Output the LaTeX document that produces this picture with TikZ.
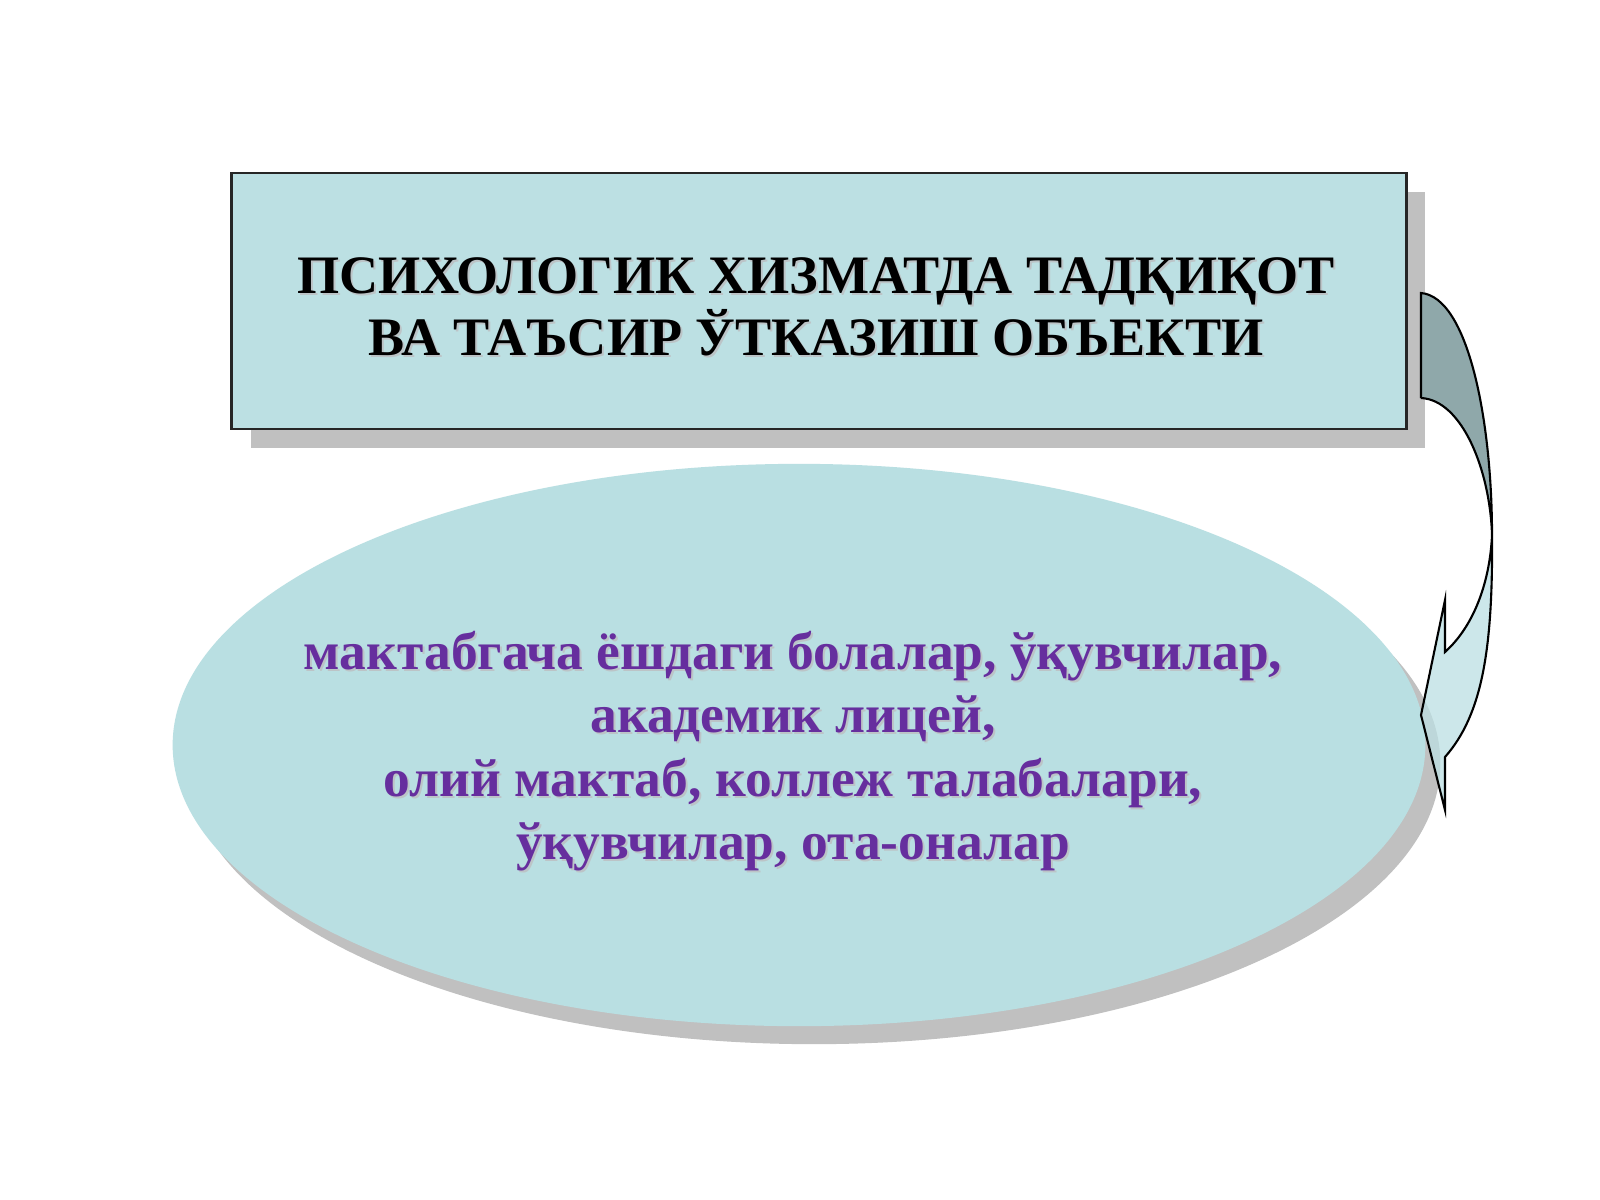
\documentclass[tikz,border=0pt]{standalone}
\usepackage{fontspec}
\setmainfont{Liberation Serif}
\definecolor{boxfill}{RGB}{188,224,227}
\definecolor{ellfill}{RGB}{185,223,226}
\definecolor{shadowgray}{RGB}{192,192,192}
\definecolor{arrowdark}{RGB}{143,168,170}
\definecolor{txtpurple}{RGB}{102,46,158}
\definecolor{txtshadow}{RGB}{160,170,175}
\tikzset{
  titlebox/.style={draw=black!85, line width=0.7pt, fill=boxfill, minimum width=11.74cm, minimum height=2.56cm, inner sep=0pt},
  boxshadow/.style={fill=shadowgray, draw=none, minimum width=11.74cm, minimum height=2.56cm, inner sep=0pt},
  titletext/.style={font=\fontsize{15.4}{17.7}\selectfont\bfseries, align=center, text=black, inner sep=0pt},
  elltext/.style={font=\fontsize{15.2}{18.0}\selectfont\bfseries, align=center, text=txtpurple, inner sep=0pt},
  shadowtext/.style={text=txtshadow!70},
  ellshape/.style={ellipse, fill=ellfill, draw=none, minimum width=12.52cm, minimum height=5.62cm, inner sep=0pt},
  ellshadow/.style={ellipse, fill=shadowgray, draw=none, minimum width=12.52cm, minimum height=5.62cm, inner sep=0pt},
  arrowline/.style={draw=black, line width=0.6pt, line join=miter},
}
\usetikzlibrary{shapes.geometric}
\begin{document}
\begin{tikzpicture}[x=0.01cm,y=-0.01cm]
\useasboundingbox (0,0) rectangle (1600,1200);
\fill[white] (0,0) rectangle (1600,1200);
% title box
\node[boxshadow] (tshadow) at (838,320) {};
\node[titlebox] (title) at (819,301) {};
\node[titletext, shadowtext] (ttshadow) at (818,309) {ПСИХОЛОГИК ХИЗМАТДА ТАДҚИҚОТ\\ ВА ТАЪСИР ЎТКАЗИШ ОБЪЕКТИ};
\node[titletext] (ttext) at (816,307) {ПСИХОЛОГИК ХИЗМАТДА ТАДҚИҚОТ\\ ВА ТАЪСИР ЎТКАЗИШ ОБЪЕКТИ};
% ellipse
\node[ellshadow] (eshadow) at (814,763) {};
\node[ellshape] (obj) at (799,745) {};
\node[elltext, shadowtext] (etshadow) at (795,753) {мактабгача ёшдаги болалар, ўқувчилар,\\ академик лицей,\\ олий мактаб, коллеж талабалари,\\ ўқувчилар, ота-оналар};
\node[elltext] (etext) at (793,751) {мактабгача ёшдаги болалар, ўқувчилар,\\ академик лицей,\\ олий мактаб, коллеж талабалари,\\ ўқувчилар, ота-оналар};
% curved arrow
\coordinate (a1) at (1421,293);
\coordinate (b1) at (1421,398);
\coordinate (m) at (1492,535);
\coordinate (ob) at (1445,757);
\coordinate (ib) at (1445,652);
\coordinate (bar1) at (1445,600);
\coordinate (tip) at (1421,715);
\coordinate (bar2) at (1445,810);
\fill[arrowdark] (a1) .. controls (1468,297) and (1492,420) .. (m)
   .. controls (1490,470) and (1462,400) .. (b1) -- cycle;
\fill[boxfill, fill opacity=0.75] (m) .. controls (1493,650) and (1482,715) .. (ob)
   -- (bar2) -- (tip) -- (bar1) -- (ib)
   .. controls (1475,625) and (1490,580) .. (m);
\draw[arrowline] (b1) -- (a1) .. controls (1468,297) and (1492,420) .. (m)
   .. controls (1493,650) and (1482,715) .. (ob) -- (bar2) -- (tip) -- (bar1) -- (ib)
   .. controls (1475,625) and (1490,580) .. (m)
   .. controls (1490,470) and (1462,400) .. (b1);
\end{tikzpicture}
\end{document}
